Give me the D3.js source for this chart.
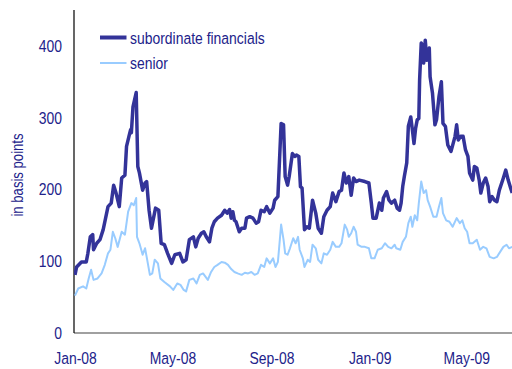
<!DOCTYPE html>
<html>
<head>
<meta charset="utf-8">
<script src="https://cdn.jsdelivr.net/npm/d3@7"></script>
<style>
  html, body { margin: 0; padding: 0; background: #fff; }
  svg { display: block; }
  text { font-family: Arial, "Liberation Sans", sans-serif; fill: #22228a; }
</style>
</head>
<body>
<svg id="chart" width="512" height="369"></svg>
<script>
// ---- data ----
const subDates = ["2008-01-01","2008-01-03","2008-01-09","2008-01-15","2008-01-17","2008-01-20","2008-01-23","2008-01-24","2008-01-28","2008-02-01","2008-02-05","2008-02-08","2008-02-11","2008-02-15","2008-02-18","2008-02-21","2008-02-25","2008-02-28","2008-03-03","2008-03-05","2008-03-08","2008-03-10","2008-03-11","2008-03-13","2008-03-17","2008-03-19","2008-03-21","2008-03-25","2008-03-28","2008-03-30","2008-04-02","2008-04-05","2008-04-10","2008-04-14","2008-04-17","2008-04-21","2008-04-25","2008-04-30","2008-05-04","2008-05-10","2008-05-14","2008-05-18","2008-05-22","2008-05-27","2008-05-30","2008-06-02","2008-06-06","2008-06-09","2008-06-12","2008-06-16","2008-06-19","2008-06-22","2008-06-26","2008-07-01","2008-07-05","2008-07-08","2008-07-11","2008-07-13","2008-07-15","2008-07-17","2008-07-19","2008-07-23","2008-07-26","2008-07-30","2008-08-01","2008-08-05","2008-08-09","2008-08-13","2008-08-16","2008-08-19","2008-08-23","2008-08-26","2008-08-30","2008-09-03","2008-09-05","2008-09-09","2008-09-11","2008-09-13","2008-09-16","2008-09-18","2008-09-21","2008-09-23","2008-09-27","2008-09-30","2008-10-02","2008-10-05","2008-10-07","2008-10-09","2008-10-12","2008-10-15","2008-10-18","2008-10-22","2008-10-26","2008-10-29","2008-11-02","2008-11-05","2008-11-09","2008-11-13","2008-11-16","2008-11-20","2008-11-24","2008-11-27","2008-11-30","2008-12-03","2008-12-06","2008-12-09","2008-12-12","2008-12-15","2008-12-19","2008-12-26","2008-12-31","2009-01-03","2009-01-05","2009-01-09","2009-01-13","2009-01-16","2009-01-18","2009-01-22","2009-01-25","2009-01-28","2009-02-01","2009-02-04","2009-02-07","2009-02-09","2009-02-11","2009-02-13","2009-02-16","2009-02-18","2009-02-21","2009-02-23","2009-02-25","2009-02-27","2009-03-01","2009-03-03","2009-03-04","2009-03-06","2009-03-08","2009-03-09","2009-03-11","2009-03-13","2009-03-16","2009-03-17","2009-03-20","2009-03-23","2009-03-25","2009-03-28","2009-03-31","2009-04-02","2009-04-05","2009-04-08","2009-04-12","2009-04-17","2009-04-19","2009-04-21","2009-04-24","2009-04-27","2009-04-30","2009-05-03","2009-05-05","2009-05-09","2009-05-11","2009-05-14","2009-05-17","2009-05-19","2009-05-22","2009-05-25","2009-05-28","2009-05-30","2009-06-02","2009-06-05","2009-06-08","2009-06-11","2009-06-16","2009-06-19","2009-06-22","2009-06-25","2009-06-27"];
const subValues = [81,92,99,99,111,134,137,116,125,130,144,160,176,181,206,195,176,216,220,260,274,283,279,315,335,232,223,199,209,211,171,146,174,171,125,123,111,97,109,111,99,102,130,134,120,132,139,141,134,127,146,155,160,164,171,167,172,160,169,157,155,141,146,146,160,162,160,153,155,171,169,176,167,174,185,190,241,292,290,218,206,218,250,246,248,246,204,202,144,148,146,185,167,146,139,162,171,176,195,183,197,199,223,209,218,192,216,211,213,211,209,181,160,160,181,171,188,197,185,181,185,174,171,181,204,218,237,288,301,283,264,285,297,299,353,404,399,376,408,380,397,357,334,290,297,329,350,292,288,262,253,274,290,269,274,274,255,246,223,213,232,230,213,195,209,216,204,183,190,185,183,199,216,227,213,202,195];

const senDates = ["2008-01-01","2008-01-05","2008-01-11","2008-01-15","2008-01-18","2008-01-21","2008-01-24","2008-01-29","2008-02-03","2008-02-07","2008-02-11","2008-02-14","2008-02-17","2008-02-20","2008-02-23","2008-02-28","2008-03-03","2008-03-07","2008-03-11","2008-03-14","2008-03-17","2008-03-18","2008-03-21","2008-03-25","2008-03-28","2008-03-30","2008-04-03","2008-04-06","2008-04-09","2008-04-13","2008-04-16","2008-04-21","2008-04-28","2008-05-02","2008-05-07","2008-05-11","2008-05-15","2008-05-18","2008-05-22","2008-05-27","2008-05-31","2008-06-04","2008-06-08","2008-06-14","2008-06-18","2008-06-22","2008-06-26","2008-07-01","2008-07-05","2008-07-09","2008-07-13","2008-07-17","2008-07-21","2008-07-26","2008-07-30","2008-08-03","2008-08-07","2008-08-11","2008-08-15","2008-08-19","2008-08-23","2008-08-26","2008-08-30","2008-09-03","2008-09-06","2008-09-09","2008-09-13","2008-09-16","2008-09-18","2008-09-21","2008-09-24","2008-09-28","2008-10-01","2008-10-04","2008-10-06","2008-10-10","2008-10-12","2008-10-16","2008-10-19","2008-10-22","2008-10-26","2008-10-29","2008-11-02","2008-11-05","2008-11-09","2008-11-13","2008-11-16","2008-11-20","2008-11-24","2008-11-27","2008-12-01","2008-12-04","2008-12-06","2008-12-09","2008-12-12","2008-12-15","2008-12-17","2008-12-22","2008-12-26","2008-12-31","2009-01-03","2009-01-07","2009-01-11","2009-01-16","2009-01-20","2009-01-24","2009-01-28","2009-02-01","2009-02-03","2009-02-08","2009-02-11","2009-02-15","2009-02-18","2009-02-21","2009-02-23","2009-02-26","2009-03-01","2009-03-03","2009-03-06","2009-03-09","2009-03-12","2009-03-14","2009-03-17","2009-03-21","2009-03-25","2009-03-28","2009-03-31","2009-04-02","2009-04-06","2009-04-10","2009-04-14","2009-04-19","2009-04-23","2009-04-26","2009-04-29","2009-05-02","2009-05-05","2009-05-09","2009-05-14","2009-05-18","2009-05-22","2009-05-26","2009-05-30","2009-06-04","2009-06-08","2009-06-12","2009-06-16","2009-06-20","2009-06-23","2009-06-27"];
const senValues = [52,62,65,62,76,88,74,76,83,95,111,116,141,132,120,141,137,169,181,178,188,134,125,109,118,106,81,83,102,97,76,71,65,60,69,67,60,58,74,76,69,81,83,74,85,92,95,99,98,95,89,85,83,81,84,83,85,81,83,95,92,104,97,104,92,99,151,130,111,109,118,132,125,134,116,104,92,102,99,123,118,102,97,111,109,116,127,120,120,125,151,144,134,139,148,141,123,120,120,118,104,104,116,118,125,120,118,123,118,116,127,134,153,162,148,164,157,181,211,195,199,185,176,162,162,176,188,167,157,155,148,160,153,157,146,141,125,125,130,116,120,118,106,104,106,113,120,123,118,120];

const seriesNames = ["subordinate financials", "senior"];
const seriesColors = ["#333399", "#99ccff"];
const yTicks = [0, 100, 200, 300, 400];
const xTickDates = ["2008-01-01", "2008-05-01", "2008-09-01", "2009-01-01", "2009-05-01"];
const yLabel = "in basis points";

// ---- drawing ----
const parse = d3.timeParse("%Y-%m-%d");
const svg = d3.select("#chart");
const fontSize = 17;
const squeeze = 0.82; // narrow typeface look

const x = d3.scaleTime()
  .domain([parse("2008-01-01"), parse("2009-01-01")])
  .range([75, 369.7]);
const y = d3.scaleLinear().domain([0, 450]).range([333, 10]);

const series = [
  { name: seriesNames[0], color: seriesColors[0], width: 3.5, legendWidth: 4,
    data: subDates.map((d, i) => ({ date: parse(d), v: subValues[i] })) },
  { name: seriesNames[1], color: seriesColors[1], width: 2, legendWidth: 2,
    data: senDates.map((d, i) => ({ date: parse(d), v: senValues[i] })) }
];

// axes
const xAxis = d3.axisBottom(x)
  .tickValues(xTickDates.map(parse))
  .tickFormat(d3.timeFormat("%b-%y"))
  .tickSize(0)
  .tickPadding(19);
const gx = svg.append("g").attr("transform", "translate(0,333)").call(xAxis);
gx.select(".domain").remove();
gx.append("line").attr("x1", 74).attr("x2", 512).attr("y1", 0).attr("y2", 0)
  .attr("stroke", "#808080").attr("stroke-width", 1.5);
gx.selectAll(".tick text")
  .attr("font-size", fontSize)
  .attr("transform", `scale(${squeeze},1)`);

const yAxis = d3.axisLeft(y).tickValues(yTicks).tickSize(0).tickPadding(12);
const gy = svg.append("g").attr("transform", "translate(74,0)").call(yAxis);
gy.select(".domain").remove();
gy.append("line").attr("x1", 0).attr("x2", 0).attr("y1", 10).attr("y2", 333)
  .attr("stroke", "#000").attr("stroke-width", 1.2);
gy.selectAll(".tick text")
  .attr("font-size", fontSize)
  .attr("x", -12 / squeeze)
  .attr("transform", `scale(${squeeze},1)`);
svg.selectAll(".tick text").attr("fill", "#22228a").attr("font-family", null);

svg.append("text")
  .attr("transform", `translate(23,175) rotate(-90) scale(${squeeze},1)`)
  .attr("text-anchor", "middle")
  .attr("font-size", 16)
  .text(yLabel);

// lines (senior first so subordinate is on top)
const line = d3.line().x(d => x(d.date)).y(d => y(d.v));
svg.append("clipPath").attr("id", "plotclip")
  .append("rect").attr("x", 74).attr("y", 0).attr("width", 438).attr("height", 340);
[series[1], series[0]].forEach(s => {
  svg.append("path")
    .datum(s.data)
    .attr("clip-path", "url(#plotclip)")
    .attr("fill", "none")
    .attr("stroke", s.color)
    .attr("stroke-width", s.width)
    .attr("stroke-linejoin", "round")
    .attr("d", line);
});

// legend
const legend = svg.append("g");
series.forEach((s, i) => {
  const ly = 37.5 + i * 25.5;
  legend.append("line").attr("x1", 100).attr("x2", 126.5).attr("y1", ly).attr("y2", ly)
    .attr("stroke", s.color).attr("stroke-width", s.legendWidth);
  legend.append("text")
    .attr("transform", `translate(130,${ly + 6}) scale(${squeeze},1)`)
    .attr("font-size", fontSize)
    .text(s.name);
});
</script>
</body>
</html>
